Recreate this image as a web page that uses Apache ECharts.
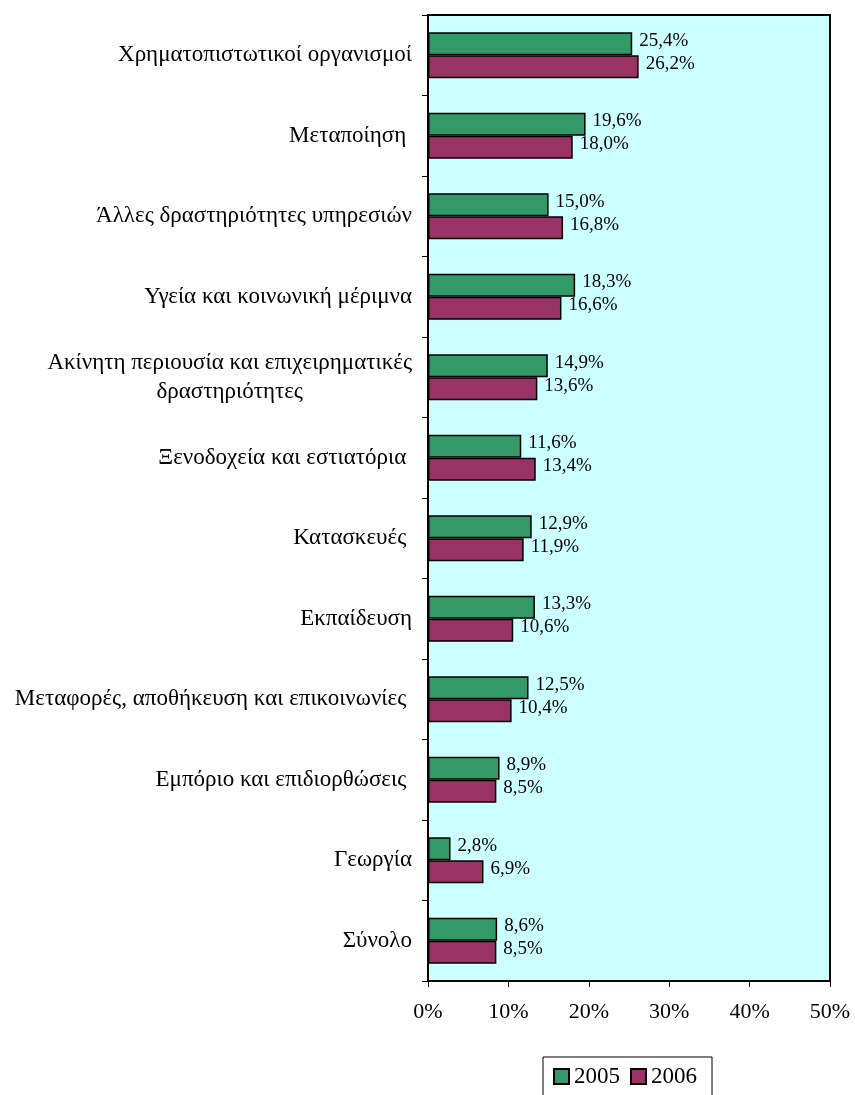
<!DOCTYPE html>
<html>
<head>
<meta charset="utf-8">
<script src="https://cdn.jsdelivr.net/npm/echarts@6/dist/echarts.min.js"></script>
<style>
html,body{margin:0;padding:0;background:#fff;}
#chart{width:855px;height:1095px;}
</style>
</head>
<body>
<div id="chart"></div>
<script>
var categories = [
  'Χρηματοπιστωτικοί οργανισμοί',
  'Μεταποίηση ',
  'Άλλες δραστηριότητες υπηρεσιών',
  'Υγεία και κοινωνική μέριμνα',
  'Ακίνητη περιουσία και επιχειρηματικές\nδραστηριότητες',
  'Ξενοδοχεία και εστιατόρια ',
  'Κατασκευές ',
  'Εκπαίδευση',
  'Μεταφορές, αποθήκευση και επικοινωνίες ',
  'Εμπόριο και επιδιορθώσεις ',
  'Γεωργία',
  'Σύνολο'
];
var seriesNames = ['2005', '2006'];
var values2005 = [25.4, 19.6, 15.0, 18.3, 14.9, 11.6, 12.9, 13.3, 12.5, 8.9, 2.8, 8.6];
var values2006 = [26.2, 18.0, 16.8, 16.6, 13.6, 13.4, 11.9, 10.6, 10.4, 8.5, 6.9, 8.5];
var xTicks = [0, 10, 20, 30, 40, 50];

var FONT = '"Liberation Serif", "DejaVu Serif", serif';
var chart = echarts.init(document.getElementById('chart'));

function pctLabel(p) {
  return p.value.toFixed(1).replace('.', ',') + '%';
}

var labelStyle = {
  show: true,
  position: 'right',
  distance: 7,
  offset: [0, -3],
  formatter: pctLabel,
  fontFamily: FONT,
  fontSize: 19,
  color: '#000'
};

chart.setOption({
  backgroundColor: '#fff',
  animation: false,
  grid: {
    left: 428, right: 25, top: 15, bottom: 114,
    show: true,
    backgroundColor: '#CCFFFF',
    borderColor: '#000',
    borderWidth: 2,
    containLabel: false
  },
  legend: {
    data: seriesNames,
    left: 543,
    top: 1057,
    orient: 'horizontal',
    icon: 'rect',
    itemWidth: 15,
    itemHeight: 15,
    itemGap: 10,
    padding: [8, 15, 20, 10],
    borderColor: '#000',
    borderWidth: 1,
    textStyle: { fontFamily: FONT, fontSize: 23, color: '#000' }
  },
  xAxis: {
    type: 'value',
    min: xTicks[0],
    max: xTicks[xTicks.length - 1],
    interval: 10,
    axisLine: { show: true, lineStyle: { color: '#000', width: 2 } },
    axisTick: { show: true, length: 6, lineStyle: { color: '#000', width: 1 } },
    splitLine: { show: false },
    axisLabel: {
      formatter: '{value}%',
      fontFamily: FONT,
      fontSize: 22,
      color: '#000',
      margin: 20
    }
  },
  yAxis: {
    type: 'category',
    data: categories,
    inverse: true,
    axisLine: { show: true, lineStyle: { color: '#000', width: 2 } },
    axisTick: { show: true, length: 6, lineStyle: { color: '#000', width: 1 } },
    splitLine: { show: false },
    axisLabel: {
      fontFamily: FONT,
      fontSize: 23,
      color: '#000',
      margin: 16,
      lineHeight: 29,
      formatter: function (v) {
        if (v.indexOf('\n') >= 0) {
          var p = v.split('\n');
          return '{a|' + p[0] + '}\n{b|' + p[1] + '}';
        }
        return v;
      },
      rich: {
        a: { fontFamily: FONT, fontSize: 23, color: '#000', lineHeight: 29 },
        b: { fontFamily: FONT, fontSize: 23, color: '#000', lineHeight: 29, align: 'center' }
      }
    }
  },
  series: [
    {
      name: seriesNames[0],
      type: 'bar',
      data: values2005,
      barWidth: 23,
      barGap: '0%',
      itemStyle: { color: '#339966', borderColor: '#000', borderWidth: 1.5 },
      label: labelStyle
    },
    {
      name: seriesNames[1],
      type: 'bar',
      data: values2006,
      barWidth: 23,
      barGap: '0%',
      itemStyle: { color: '#993366', borderColor: '#000', borderWidth: 1.5 },
      label: labelStyle
    }
  ]
});
</script>
</body>
</html>
